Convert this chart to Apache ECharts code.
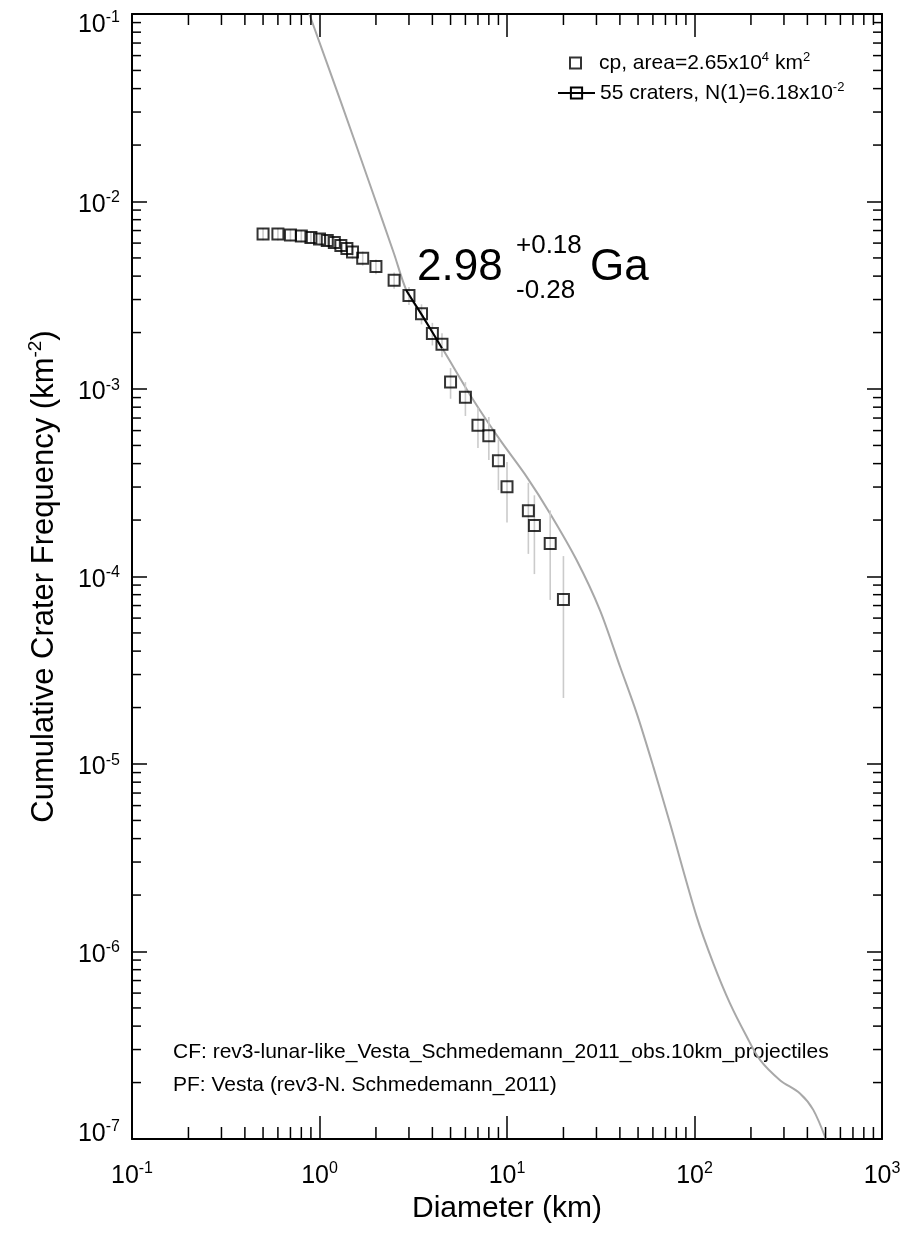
<!DOCTYPE html>
<html>
<head>
<meta charset="utf-8">
<script src="https://cdn.jsdelivr.net/npm/echarts@6/dist/echarts.min.js"></script>
<style>
html,body{margin:0;padding:0;background:#ffffff;}
#chart{width:909px;height:1236px;}
</style>
</head>
<body>
<div id="chart"></div>
<script>
// ---------------- data ----------------
const diameters = [0.5, 0.6, 0.7, 0.8, 0.9, 1.0, 1.1, 1.2, 1.3, 1.4, 1.5, 1.7, 2.0, 2.5, 3.0, 3.5, 4.0, 4.5, 5, 6, 7, 8, 9, 10, 13, 14, 17, 20];
const cumFreq = [6.71e-3, 6.70e-3, 6.63e-3, 6.55e-3, 6.43e-3, 6.31e-3, 6.19e-3, 6.04e-3, 5.82e-3, 5.61e-3, 5.38e-3, 4.98e-3, 4.50e-3, 3.80e-3, 3.15e-3, 2.52e-3, 1.98e-3, 1.73e-3, 1.09e-3, 9.03e-4, 6.40e-4, 5.64e-4, 4.14e-4, 3.01e-4, 2.24e-4, 1.87e-4, 1.50e-4, 7.55e-5];
const errSigma = [5.03e-4, 5.02e-4, 4.99e-4, 4.97e-4, 4.93e-4, 4.88e-4, 4.83e-4, 4.77e-4, 4.69e-4, 4.60e-4, 4.51e-4, 4.34e-4, 4.12e-4, 3.79e-4, 3.45e-4, 3.09e-4, 2.73e-4, 2.55e-4, 2.03e-4, 1.85e-4, 1.55e-4, 1.46e-4, 1.25e-4, 1.07e-4, 9.2e-5, 8.4e-5, 7.5e-5, 5.3e-5];

const isoDiam = [0.882, 1.3, 1.9, 2.5, 2.918, 3.5, 4.575, 6.61, 9.18, 12.74, 16.96, 23.5, 31.3, 40.1, 49.2, 60.3, 74.0, 102.7, 126.0, 154.6, 189.8, 223.6, 285.8, 365.3, 430, 502];
const isoFreq = [0.1, 0.0340, 0.01155, 5.25e-3, 3.33e-3, 2.50e-3, 1.614e-3, 8.74e-4, 5.35e-4, 3.40e-4, 2.17e-4, 1.225e-4, 6.62e-5, 3.30e-5, 1.862e-5, 9.68e-6, 4.83e-6, 1.535e-6, 8.65e-7, 5.29e-7, 3.52e-7, 2.64e-7, 2.06e-7, 1.75e-7, 1.43e-7, 1.0e-7];

const fitDiam = [2.9, 3.5, 4.0, 4.5];
const fitFreq = [3.36e-3, 2.50e-3, 2.01e-3, 1.65e-3];

const xTickExponents = [-1, 0, 1, 2, 3];
const yTickExponents = [-7, -6, -5, -4, -3, -2, -1];
const minorMultipliers = [2, 3, 4, 5, 6, 7, 8, 9];

const legendTexts = {
  cp: '{b|cp, area=2.65x10}{s|4}{b| km}{s|2}',
  craters: '{b|55 craters, N(1)=6.18x10}{s|-2}'
};
const ageText = '2.98', agePlus = '+0.18', ageMinus = '-0.28', ageUnit = 'Ga';
const cfText = 'CF: rev3-lunar-like_Vesta_Schmedemann_2011_obs.10km_projectiles';
const pfText = 'PF: Vesta (rev3-N. Schmedemann_2011)';

// ---------------- derived helpers ----------------
const X_MIN = Math.pow(10, xTickExponents[0]);
const X_MAX = Math.pow(10, xTickExponents[xTickExponents.length - 1]);
const Y_MIN = Math.pow(10, yTickExponents[0]);
const Y_MAX = Math.pow(10, yTickExponents[yTickExponents.length - 1]);

const xMinor = [];
for (let i = 0; i < xTickExponents.length - 1; i++) {
  minorMultipliers.forEach(m => xMinor.push(m * Math.pow(10, xTickExponents[i])));
}
const yMinor = [];
for (let i = 0; i < yTickExponents.length - 1; i++) {
  minorMultipliers.forEach(m => yMinor.push(m * Math.pow(10, yTickExponents[i])));
}

const FONT = '"Liberation Sans", Arial, Helvetica, sans-serif';
const BLACK = '#000000';

const tickRich = {
  b: { fontSize: 25, lineHeight: 30, fontFamily: FONT, color: BLACK },
  s: { fontSize: 16, lineHeight: 14, verticalAlign: 'top', fontFamily: FONT, color: BLACK },
  g: { fontSize: 1, lineHeight: 7, fontFamily: FONT },
  gt: { fontSize: 1, lineHeight: 22, fontFamily: FONT },
  gb: { fontSize: 1, lineHeight: 10, fontFamily: FONT }
};
function expOf(v) { return Math.round(Math.log10(v)); }
function xLabel(v) {
  return '{b|10}{s|' + expOf(v) + '}';
}
function yLabel(v) {
  const e = expOf(v);
  if (e === yTickExponents[yTickExponents.length - 1]) return '{gt| }\n{b|10}{s|' + e + '}';
  if (e === yTickExponents[0]) return '{b|10}{s|' + e + '}\n{gb| }';
  return '{g| }\n{b|10}{s|' + e + '}';
}

const chart = echarts.init(document.getElementById('chart'), null, { renderer: 'canvas', width: 909, height: 1236 });

const axisLineStyle = { color: BLACK, width: 2 };
const legendRich = {
  b: { fontSize: 21, lineHeight: 24, fontFamily: FONT, color: BLACK },
  s: { fontSize: 13, lineHeight: 12, verticalAlign: 'top', fontFamily: FONT, color: BLACK }
};

const option = {
  animation: false,
  backgroundColor: '#ffffff',
  grid: { left: 132, right: 27, top: 14, bottom: 97, containLabel: false, outerBoundsMode: 'none' },
  xAxis: [
    {
      type: 'log', logBase: 10, min: X_MIN, max: X_MAX, position: 'bottom',
      axisLine: { show: true, lineStyle: axisLineStyle },
      axisTick: { show: true, inside: true, length: 23, lineStyle: { color: BLACK, width: 1.5 } },
      minorTick: { show: false },
      splitLine: { show: false },
      axisLabel: { show: true, margin: 22, formatter: xLabel, rich: tickRich },
      name: 'Diameter (km)', nameLocation: 'middle', nameGap: 55,
      nameTextStyle: { fontSize: 30, fontFamily: FONT, color: BLACK }
    },
    {
      type: 'log', logBase: 10, min: X_MIN, max: X_MAX, position: 'top',
      axisLine: { show: true, lineStyle: axisLineStyle },
      axisTick: { show: true, inside: true, length: 23, lineStyle: { color: BLACK, width: 1.5 } },
      splitLine: { show: false },
      axisLabel: { show: false }
    }
  ],
  yAxis: [
    {
      type: 'log', logBase: 10, min: Y_MIN, max: Y_MAX, position: 'left', splitNumber: 6,
      axisLine: { show: true, lineStyle: axisLineStyle },
      axisTick: { show: true, inside: true, length: 15, lineStyle: { color: BLACK, width: 1.5 } },
      splitLine: { show: false },
      axisLabel: { show: true, margin: 12, formatter: yLabel, rich: tickRich },
      name: '{t|Cumulative Crater Frequency (km}{s|-2}{t|)}',
      nameLocation: 'middle', nameRotate: 90, nameGap: 70,
      nameTextStyle: {
        fontSize: 31, fontFamily: FONT, color: BLACK,
        rich: {
          t: { fontSize: 31, lineHeight: 36, fontFamily: FONT, color: BLACK },
          s: { fontSize: 19, lineHeight: 19, verticalAlign: 'top', fontFamily: FONT, color: BLACK }
        }
      }
    },
    {
      type: 'log', logBase: 10, min: Y_MIN, max: Y_MAX, position: 'right', splitNumber: 6,
      axisLine: { show: true, lineStyle: axisLineStyle },
      axisTick: { show: true, inside: true, length: 15, lineStyle: { color: BLACK, width: 1.5 } },
      splitLine: { show: false },
      axisLabel: { show: false }
    }
  ],
  legend: [
    {
      data: [{ name: 'cp', icon: 'path://M0 0H10V10H0Z' }],
      orient: 'vertical', left: 569, top: 51, padding: 0,
      itemWidth: 37, itemHeight: 11, symbolKeepAspect: true,
      selectedMode: false,
      formatter: name => legendTexts[name],
      textStyle: { fontSize: 21, fontFamily: FONT, color: BLACK, rich: legendRich }
    },
    {
      data: ['craters'],
      orient: 'vertical', left: 557, top: 81, padding: 0,
      itemWidth: 37, itemHeight: 14,
      selectedMode: false,
      formatter: name => legendTexts[name],
      textStyle: { fontSize: 21, fontFamily: FONT, color: BLACK, rich: legendRich }
    }
  ],
  series: [
    {
      name: 'isochron', type: 'line', xAxisIndex: 0, yAxisIndex: 0,
      data: isoDiam.map((d, i) => [d, isoFreq[i]]),
      showSymbol: false, symbol: 'none', smooth: 0.3, clip: true,
      lineStyle: { color: '#a8a8a8', width: 2 }, z: 2, silent: true
    },
    {
      name: 'errors', type: 'custom', xAxisIndex: 0, yAxisIndex: 0,
      data: diameters.map((d, i) => [d, cumFreq[i] - errSigma[i], cumFreq[i] + errSigma[i]]),
      encode: { x: 0, y: [1, 2] },
      renderItem: function (params, api) {
        const lo = api.coord([api.value(0), api.value(1)]);
        const hi = api.coord([api.value(0), api.value(2)]);
        return { type: 'line', shape: { x1: lo[0], y1: lo[1], x2: hi[0], y2: hi[1] }, style: { stroke: '#cbcbcb', lineWidth: 1.6 } };
      },
      z: 3, silent: true
    },
    {
      name: 'craters', type: 'line', xAxisIndex: 0, yAxisIndex: 0,
      data: fitDiam.map((d, i) => [d, fitFreq[i]]),
      symbol: 'rect', showSymbol: false, symbolSize: 11,
      itemStyle: { color: 'rgba(0,0,0,0)', borderColor: BLACK, borderWidth: 2 },
      lineStyle: { color: BLACK, width: 2 }, z: 4, silent: true
    },
    {
      name: 'cp', type: 'scatter', xAxisIndex: 0, yAxisIndex: 0,
      data: diameters.map((d, i) => [d, cumFreq[i]]),
      symbol: 'rect', symbolSize: 11,
      itemStyle: { color: 'rgba(0,0,0,0)', borderColor: BLACK, borderWidth: 2 },
      z: 5, silent: true
    },
    {
      name: 'xminor', type: 'custom', xAxisIndex: 0, yAxisIndex: 0,
      data: xMinor.map(v => [v, Y_MIN]),
      encode: { x: 0, y: 1 },
      renderItem: function (params, api) {
        const b = api.coord([api.value(0), Y_MIN]);
        const t = api.coord([api.value(0), Y_MAX]);
        return { type: 'group', children: [
          { type: 'line', shape: { x1: b[0], y1: b[1], x2: b[0], y2: b[1] - 12 }, style: { stroke: BLACK, lineWidth: 1.5 } },
          { type: 'line', shape: { x1: t[0], y1: t[1], x2: t[0], y2: t[1] + 11 }, style: { stroke: BLACK, lineWidth: 1.5 } }
        ] };
      },
      z: 6, silent: true
    },
    {
      name: 'yminor', type: 'custom', xAxisIndex: 0, yAxisIndex: 0,
      data: yMinor.map(v => [X_MIN, v]),
      encode: { x: 0, y: 1 },
      renderItem: function (params, api) {
        const l = api.coord([X_MIN, api.value(1)]);
        const r = api.coord([X_MAX, api.value(1)]);
        return { type: 'group', children: [
          { type: 'line', shape: { x1: l[0], y1: l[1], x2: l[0] + 9, y2: l[1] }, style: { stroke: BLACK, lineWidth: 1.5 } },
          { type: 'line', shape: { x1: r[0], y1: r[1], x2: r[0] - 9, y2: r[1] }, style: { stroke: BLACK, lineWidth: 1.5 } }
        ] };
      },
      z: 6, silent: true
    }
  ],
  graphic: [
    { type: 'text', x: 417, y: 268, silent: true,
      style: { text: ageText, font: '44px ' + FONT, fill: BLACK, verticalAlign: 'middle', textVerticalAlign: 'middle' } },
    { type: 'text', x: 516, y: 246, silent: true,
      style: { text: agePlus, font: '26px ' + FONT, fill: BLACK, verticalAlign: 'middle', textVerticalAlign: 'middle' } },
    { type: 'text', x: 516, y: 291, silent: true,
      style: { text: ageMinus, font: '26px ' + FONT, fill: BLACK, verticalAlign: 'middle', textVerticalAlign: 'middle' } },
    { type: 'text', x: 590, y: 268, silent: true,
      style: { text: ageUnit, font: '44px ' + FONT, fill: BLACK, verticalAlign: 'middle', textVerticalAlign: 'middle' } },
    { type: 'text', x: 173, y: 1052, silent: true,
      style: { text: cfText, font: '21px ' + FONT, fill: BLACK, verticalAlign: 'middle', textVerticalAlign: 'middle' } },
    { type: 'text', x: 173, y: 1085, silent: true,
      style: { text: pfText, font: '21px ' + FONT, fill: BLACK, verticalAlign: 'middle', textVerticalAlign: 'middle' } }
  ]
};

chart.setOption(option);
</script>
</body>
</html>
